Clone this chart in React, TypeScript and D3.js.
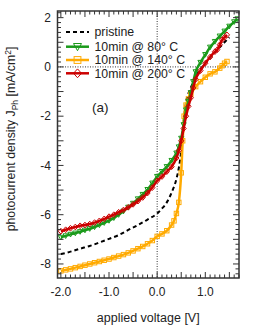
import React from 'react';
import * as d3 from 'd3';

// applied voltage [V] / photocurrent density [mA/cm²]
const pristineV = [-2.0, -1.8, -1.6, -1.4, -1.2, -1.0, -0.8, -0.6, -0.4, -0.2, 0.0, 0.1, 0.2, 0.3, 0.4, 0.45, 0.5, 0.55, 0.6, 0.7, 0.8, 0.9, 1.0, 1.1, 1.2, 1.3, 1.4, 1.5];
const pristineJ = [-7.6, -7.5, -7.38, -7.27, -7.13, -6.98, -6.83, -6.62, -6.42, -6.2, -5.95, -5.75, -5.5, -5.1, -4.55, -4.1, -3.4, -2.2, -1.45, -0.85, -0.4, -0.1, 0.15, 0.38, 0.6, 0.8, 1.0, 1.2];

const c80V = [-2.0, -1.9, -1.8, -1.7, -1.6, -1.5, -1.4, -1.3, -1.2, -1.1, -1.0, -0.9, -0.8, -0.7, -0.6, -0.5, -0.4, -0.3, -0.2, -0.1, 0.0, 0.1, 0.2, 0.3, 0.4, 0.45, 0.5, 0.55, 0.6, 0.65, 0.7, 0.75, 0.8, 0.9, 1.0, 1.1, 1.2, 1.3, 1.4, 1.5, 1.6, 1.67];
const c80J = [-6.92, -6.86, -6.8, -6.75, -6.69, -6.63, -6.57, -6.5, -6.42, -6.33, -6.24, -6.13, -6.0, -5.86, -5.7, -5.54, -5.36, -5.18, -4.98, -4.72, -4.45, -4.25, -4.05, -3.8, -3.5, -3.25, -2.9, -2.35, -1.75, -1.4, -1.05, -0.6, -0.2, 0.18, 0.5, 0.8, 1.03, 1.25, 1.45, 1.65, 1.83, 1.95];

const c140V = [-2.0, -1.9, -1.8, -1.7, -1.6, -1.5, -1.4, -1.3, -1.2, -1.1, -1.0, -0.9, -0.8, -0.7, -0.6, -0.5, -0.4, -0.3, -0.2, -0.1, 0.0, 0.1, 0.2, 0.3, 0.35, 0.4, 0.45, 0.5, 0.53, 0.56, 0.6, 0.65, 0.7, 0.8, 0.9, 1.0, 1.1, 1.2, 1.3, 1.35, 1.4, 1.45];
const c140J = [-8.28, -8.24, -8.2, -8.15, -8.1, -8.05, -8.0, -7.95, -7.9, -7.85, -7.8, -7.74, -7.68, -7.62, -7.55, -7.47, -7.38, -7.29, -7.18, -7.05, -6.88, -6.78, -6.65, -6.42, -6.25, -5.95, -5.5, -4.3, -3.0, -2.0, -1.55, -1.3, -1.1, -0.8, -0.6, -0.42, -0.28, -0.2, -0.05, 0.05, 0.15, 0.22];

const c200V = [-2.0, -1.9, -1.8, -1.7, -1.6, -1.5, -1.4, -1.3, -1.2, -1.1, -1.0, -0.9, -0.8, -0.7, -0.6, -0.5, -0.4, -0.3, -0.2, -0.1, 0.0, 0.1, 0.2, 0.3, 0.4, 0.45, 0.5, 0.55, 0.6, 0.65, 0.7, 0.75, 0.8, 0.9, 1.0, 1.1, 1.2, 1.25, 1.3, 1.35, 1.4, 1.45];
const c200J = [-6.67, -6.61, -6.55, -6.5, -6.45, -6.42, -6.38, -6.32, -6.25, -6.17, -6.08, -6.0, -5.9, -5.81, -5.7, -5.58, -5.45, -5.3, -5.12, -4.9, -4.62, -4.45, -4.25, -4.05, -3.7, -3.4, -3.0, -2.5, -2.0, -1.6, -1.25, -0.85, -0.5, -0.15, 0.15, 0.4, 0.62, 0.7, 0.9, 1.1, 1.2, 1.3];

const legendLabels = ['pristine', '10min @ 80° C', '10min @ 140° C', '10min @ 200° C'];
const xTickLabels = [-2, -1, 0, 1];
const yTickLabels = [2, 0, -2, -4, -6, -8];

const GREEN = '#1a9a1a';
const ORANGE = '#ffaa00';
const RED = '#cc0000';

const zip = (xs: number[], ys: number[]) => xs.map((x, i) => [x, ys[i]] as [number, number]);

const Marker = ({ kind, x, y, color, s = 3 }: { kind: string; x: number; y: number; color: string; s?: number }) => {
  if (kind === 'tri') {
    return <path d={`M${x - s},${y - s * 0.8}L${x + s},${y - s * 0.8}L${x},${y + s}Z`} fill="none" stroke={color} strokeWidth={1} />;
  }
  if (kind === 'sq') {
    return <rect x={x - s * 0.85} y={y - s * 0.85} width={s * 1.7} height={s * 1.7} fill="none" stroke={color} strokeWidth={1} />;
  }
  return <path d={`M${x},${y - s * 1.1}L${x + s},${y}L${x},${y + s * 1.1}L${x - s},${y}Z`} fill="none" stroke={color} strokeWidth={1} />;
};

export default function App() {
  const width = 266;
  const height = 327;
  const left = 57.5, right = 239, top = 11, bottom = 278;

  const x = d3.scaleLinear().domain([-2.07, 1.7]).range([left, right]);
  const y = d3.scaleLinear().domain([2.27, -8.57]).range([top, bottom]);

  const line = d3.line<[number, number]>().x(d => x(d[0])).y(d => y(d[1])).curve(d3.curveMonotoneX);

  const series = [
    { data: zip(c140V, c140J), color: ORANGE, kind: 'sq' },
    { data: zip(c80V, c80J), color: GREEN, kind: 'tri' },
    { data: zip(c200V, c200J), color: RED, kind: 'dia' },
  ];

  const xMinor = d3.range(-20, 18).map(i => i / 10);
  const yMinor = d3.range(-42, 12).map(i => i / 5);
  const font = "'Liberation Sans', Arial, sans-serif";
  const axisColor = '#333';

  const legendRows = [32, 46.7, 60, 73.3];
  const legendColors = ['#000', GREEN, ORANGE, RED];
  const legendKinds = ['', 'tri', 'sq', 'dia'];

  return (
    <svg width={width} height={height} style={{ position: 'absolute', left: 0, top: 0 }} fontFamily={font}>
      <defs>
        <clipPath id="plot">
          <rect x={left} y={top} width={right - left} height={bottom - top} />
        </clipPath>
      </defs>
      <rect width={width} height={height} fill="#fff" />

      {/* zero lines */}
      <line x1={x(0)} x2={x(0)} y1={top} y2={bottom} stroke="#000" strokeWidth={0.8} strokeDasharray="1 1.5" />
      <line x1={left} x2={right} y1={y(0)} y2={y(0)} stroke="#000" strokeWidth={0.8} strokeDasharray="1 1.5" />

      <g clipPath="url(#plot)">
        <path d={line(zip(pristineV, pristineJ)) || ''} fill="none" stroke="#000" strokeWidth={2} strokeDasharray="4 3" />
        {series.map((s, i) => (
          <g key={i}>
            <path d={line(s.data) || ''} fill="none" stroke={s.color} strokeWidth={2.5} />
            {s.data.map((d, j) => (
              <Marker key={j} kind={s.kind} x={x(d[0])} y={y(d[1])} color={s.color} s={2.6} />
            ))}
          </g>
        ))}
      </g>

      {/* ticks */}
      {xMinor.map((v, i) => {
        const major = Math.abs(Math.round(v * 10) % 5) === 0;
        const len = major ? 6 : 3.5;
        return (
          <g key={'xt' + i} stroke={axisColor} strokeWidth={1}>
            <line x1={x(v)} x2={x(v)} y1={bottom} y2={bottom - len} />
            <line x1={x(v)} x2={x(v)} y1={top} y2={top + len} />
          </g>
        );
      })}
      {yMinor.map((v, i) => {
        if (y(v) < top || y(v) > bottom) return null;
        const major = Math.abs(Math.round(v * 5) % 5) === 0;
        const len = major ? 6 : 3.5;
        return (
          <g key={'yt' + i} stroke={axisColor} strokeWidth={1}>
            <line x1={left} x2={left + len} y1={y(v)} y2={y(v)} />
            <line x1={right} x2={right - len} y1={y(v)} y2={y(v)} />
          </g>
        );
      })}

      <rect x={left} y={top} width={right - left} height={bottom - top} fill="none" stroke={axisColor} strokeWidth={1.5} />

      {xTickLabels.map(v => (
        <text key={'xl' + v} x={x(v)} y={295.5} textAnchor="middle" fontSize={12} fill="#222">{v.toFixed(1)}</text>
      ))}
      {yTickLabels.map(v => (
        <text key={'yl' + v} x={51} y={y(v) + 4.3} textAnchor="end" fontSize={12} fill="#222">{v}</text>
      ))}

      <text x={(left + right) / 2} y={322} textAnchor="middle" fontSize={12.5} fill="#222">applied voltage [V]</text>
      <text transform={`translate(15,${139}) rotate(-90)`} textAnchor="middle" fontSize={12.3} fill="#222">
        photocurrent density J<tspan fontSize={8.5} dy={3}>Ph</tspan><tspan dy={-3}> [mA/cm</tspan><tspan fontSize={8.5} dy={-4.5}>2</tspan><tspan dy={4.5}>]</tspan>
      </text>

      {/* legend */}
      {legendLabels.map((lab, i) => (
        <g key={'lg' + i}>
          {i === 0 ? (
            <line x1={66} x2={89} y1={legendRows[i]} y2={legendRows[i]} stroke="#000" strokeWidth={2} strokeDasharray="4 3" />
          ) : (
            <>
              <line x1={66} x2={89} y1={legendRows[i]} y2={legendRows[i]} stroke={legendColors[i]} strokeWidth={2.5} />
              <Marker kind={legendKinds[i]} x={77.5} y={legendRows[i]} color={legendColors[i]} s={4} />
            </>
          )}
          <text x={94.5} y={legendRows[i] + 4.3} fontSize={12.3} fill="#222">{lab}</text>
        </g>
      ))}

      <text x={92} y={111.5} fontSize={13.5} fill="#222">(a)</text>
    </svg>
  );
}
